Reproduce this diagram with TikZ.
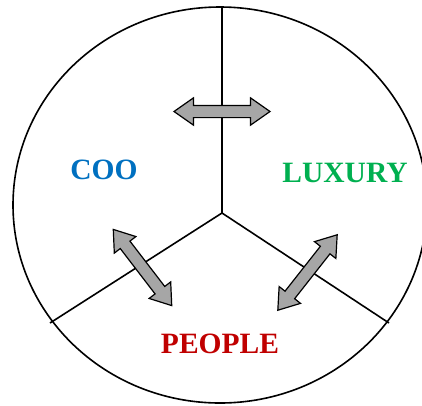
\documentclass[tikz,border=0pt]{standalone}
\usepackage{fontspec}
\setmainfont{Liberation Serif}
\usetikzlibrary{shapes.arrows}

\definecolor{cooblue}{RGB}{0,112,192}
\definecolor{luxgreen}{RGB}{0,176,80}
\definecolor{peoplered}{RGB}{192,0,0}
\definecolor{arrowgray}{RGB}{166,166,166}

\begin{document}
\begin{tikzpicture}[x=1pt, y=-1pt,
  label/.style={font=\fontsize{29.5}{32}\selectfont\bfseries, inner sep=0pt},
  link/.style={double arrow, draw, line width=1.2pt, fill=arrowgray,
    inner xsep=0pt, inner ysep=5.5pt, minimum height=96pt,
    double arrow head extend=7.5pt, double arrow tip angle=70}]
\useasboundingbox (0,0) rectangle (422,405);
\draw[line width=1.6pt] (220,205) ellipse [x radius=207pt, y radius=198pt];

\coordinate (hub) at (222,213);
\coordinate (top) at (222,7);
\coordinate (left) at (50,323);
\coordinate (right) at (389,323);
\draw[line width=1.6pt] (hub) -- (top);
\draw[line width=1.6pt] (hub) -- (left);
\draw[line width=1.6pt] (hub) -- (right);

\node[link] (cooluxury) at (222,111.5) {};
\node[link, rotate=-52.5] (coopeople) at (142.5,267.5) {};
\node[link, rotate=51.8] (luxurypeople) at (307.5,272.5) {};

\node[label, text=cooblue] (coo) at (104,170) {COO};
\node[label, text=luxgreen] (luxury) at (345,173) {LUXURY};
\node[label, text=peoplered] (people) at (220,344) {PEOPLE};
\end{tikzpicture}
\end{document}
